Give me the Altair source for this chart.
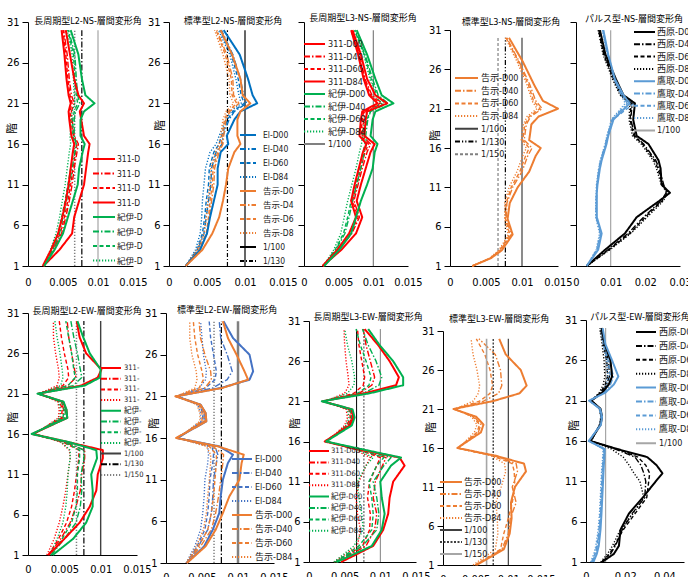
import altair as alt
import pandas as pd

# ---------------- fonts / styles ----------------
FONT_NUM = "Liberation Sans Narrow, DejaVu Sans Condensed, Liberation Sans, sans-serif"
FONT_MIX = "Liberation Sans Narrow, DejaVu Sans Condensed, Liberation Sans, Noto Sans CJK JP, sans-serif"
FONT_CJK = "Noto Sans CJK JP, sans-serif"

RED, GREEN, BLUE, BLUE2, ORANGE, LBLUE, BLACK = "#FF0000", "#00B050", "#0070C0", "#4472C4", "#ED7D31", "#5B9BD5", "#000000"
GRAY, MGRAY, DGRAY = "#A6A6A6", "#808080", "#404040"
SOLID, DASHDOT, DASH, DOT, DASHDOTDOT = [1, 0], [6, 2, 1.5, 2], [4, 2.5], [1.2, 1.8], [5, 2, 1.2, 2, 1.2, 2]

# ---------------- data (drift in 1/1000 rad) ----------------
Y_TICKS = [1, 6, 11, 16, 21, 26, 31]
REF_FLOORS = [1, 30]
R100, R130, R150 = 10.0, 7.69, 6.67

FLOORS_NS = [1, 3, 5, 7, 9, 11, 13, 15, 16, 17, 19, 20, 21, 22, 24, 27, 30]
FLOORS_L3NS = [1, 2, 3, 5, 7, 9, 11, 13, 15, 16, 17, 19, 20, 21, 22, 24, 27, 30]
FLOORS_PNS = [1, 3, 5, 7, 9, 10, 11, 13, 14, 16, 17, 19, 21, 22, 24, 27, 30]
FLOORS_EW = [1, 3, 5, 7, 9, 11, 13, 14, 15, 16, 18, 19, 20, 21, 22, 23, 24, 26, 28, 30]
FLOORS_PEW = [1, 2, 3, 5, 7, 9, 11, 12, 13, 14, 15, 16, 18, 19, 20, 21, 22, 23, 24, 26, 28, 30]

# Panel 1: 長周期型L2-NS
P1_311_D00 = [2.2, 4.5, 6.3, 6.6, 7.3, 8.0, 8.3, 8.6, 8.8, 8.0, 7.6, 7.4, 8.0, 7.2, 6.6, 6.0, 5.4]
P1_311_D40 = [2.2, 3.6, 4.8, 5.4, 5.9, 6.3, 6.6, 7.0, 7.2, 6.6, 6.3, 6.2, 6.6, 6.2, 5.9, 5.6, 5.1]
P1_311_D60 = [2.2, 3.5, 4.6, 5.2, 5.7, 6.1, 6.4, 6.8, 7.0, 6.5, 6.1, 6.0, 6.3, 6.0, 5.7, 5.4, 5.0]
P1_311_D84 = [2.1, 3.3, 4.3, 4.9, 5.4, 5.8, 6.1, 6.4, 6.6, 6.2, 5.9, 5.8, 6.1, 5.8, 5.5, 5.2, 4.8]
P1_KII_D00 = [2.3, 3.8, 5.0, 5.7, 6.4, 7.1, 7.3, 7.8, 8.1, 7.5, 7.5, 8.0, 9.5, 8.2, 7.7, 7.2, 6.1]
P1_KII_D40 = [2.3, 3.5, 4.5, 5.0, 5.5, 5.9, 6.3, 6.7, 6.9, 6.6, 6.6, 6.8, 7.4, 7.1, 6.9, 6.7, 5.8]
P1_KII_D60 = [2.3, 3.4, 4.3, 4.8, 5.3, 5.7, 6.1, 6.5, 6.7, 6.4, 6.4, 6.6, 7.1, 6.9, 6.7, 6.5, 5.7]
P1_KII_D84 = [2.2, 3.2, 4.0, 4.5, 4.9, 5.3, 5.6, 5.9, 6.1, 6.0, 6.2, 6.3, 6.7, 6.6, 6.5, 6.3, 5.6]

# Panel 2: 標準型L2-NS
P2_EL_D00 = [2.2, 4.1, 5.0, 5.4, 5.9, 6.4, 6.4, 6.8, 7.8, 7.6, 8.6, 9.4, 11.6, 11.0, 10.4, 9.3, 7.2]
P2_EL_D40 = [2.2, 3.8, 4.6, 4.9, 5.2, 5.5, 5.6, 6.2, 7.0, 7.1, 7.9, 8.6, 10.2, 9.8, 9.4, 8.4, 6.9]
P2_EL_D60 = [2.2, 3.7, 4.4, 4.7, 4.9, 5.2, 5.3, 5.9, 6.6, 6.9, 7.7, 8.4, 9.9, 9.5, 9.1, 8.2, 6.7]
P2_EL_D84 = [2.2, 3.5, 4.1, 4.3, 4.4, 4.6, 4.8, 5.4, 6.2, 6.6, 7.5, 8.1, 9.5, 9.2, 8.8, 8.0, 6.5]
P2_KO_D00 = [2.2, 4.4, 5.7, 6.6, 7.1, 7.5, 7.8, 8.6, 9.4, 9.0, 9.0, 9.4, 10.7, 9.7, 9.4, 8.3, 6.8]
P2_KO_D40 = [2.2, 4.0, 5.0, 5.3, 5.6, 5.9, 6.0, 6.6, 7.1, 7.2, 7.5, 8.0, 9.2, 8.5, 8.4, 7.6, 6.3]
P2_KO_D60 = [2.2, 3.9, 4.9, 5.2, 5.4, 5.7, 5.8, 6.4, 6.9, 7.0, 7.3, 7.8, 8.9, 8.3, 8.2, 7.4, 6.2]
P2_KO_D84 = [2.2, 3.7, 4.6, 4.9, 5.1, 5.4, 5.5, 6.1, 6.6, 6.8, 7.1, 7.5, 8.5, 8.0, 7.9, 7.1, 6.0]

# Panel 3: 長周期型L3-NS
P3_311_D00 = [2.7, 5.4, 7.5, 8.4, 7.6, 8.2, 8.9, 9.6, 10.2, 8.7, 8.9, 9.1, 12.0, 10.3, 9.1, 8.2, 7.0]
P3_311_D40 = [2.7, 5.0, 6.9, 8.0, 7.2, 7.8, 8.4, 9.1, 9.6, 8.4, 8.6, 8.8, 11.3, 9.8, 8.8, 8.0, 6.9]
P3_311_D60 = [2.7, 4.9, 6.7, 7.8, 7.0, 7.6, 8.2, 8.8, 9.3, 8.2, 8.4, 8.6, 11.0, 9.6, 8.7, 7.9, 6.8]
P3_311_D84 = [2.7, 4.8, 6.5, 7.5, 6.8, 7.3, 7.9, 8.5, 9.0, 8.0, 8.2, 8.4, 10.6, 9.4, 8.6, 7.8, 6.8]
P3_KII_D00 = [2.9, 5.1, 6.8, 7.5, 8.2, 9.1, 9.9, 10.2, 10.6, 9.6, 9.9, 10.3, 12.9, 11.2, 10.3, 9.1, 7.6]
P3_KII_D40 = [2.8, 4.6, 5.9, 6.5, 7.0, 7.6, 8.2, 8.7, 9.0, 8.9, 9.2, 9.6, 12.1, 10.7, 9.9, 8.8, 7.4]
P3_KII_D60 = [2.8, 4.5, 5.7, 6.3, 6.8, 7.4, 8.0, 8.5, 8.8, 8.7, 9.1, 9.5, 11.7, 10.5, 9.7, 8.7, 7.3]
P3_KII_D84 = [2.8, 4.3, 5.3, 5.8, 6.3, 6.9, 7.5, 8.0, 8.3, 8.4, 8.8, 9.2, 11.2, 10.2, 9.5, 8.6, 7.3]

# Panel 4: 標準型L3-NS
P4_KO_D00 = [3.1, 5.7, 7.2, 8.7, 8.0, 8.3, 9.4, 11.0, 11.9, 12.6, 11.0, 11.3, 12.3, 15.0, 12.9, 11.7, 10.1, 8.2]
P4_KO_D40 = [3.1, 5.6, 7.0, 8.5, 7.8, 7.9, 8.7, 10.0, 10.8, 11.4, 10.3, 10.6, 11.2, 12.8, 11.9, 11.1, 9.6, 7.9]
P4_KO_D60 = [3.1, 5.6, 6.9, 8.3, 7.7, 7.8, 8.5, 9.7, 10.5, 11.0, 10.1, 10.4, 11.0, 12.5, 11.6, 10.9, 9.5, 7.8]
P4_KO_D84 = [3.1, 5.5, 6.8, 8.1, 7.6, 7.6, 8.2, 9.3, 10.1, 10.6, 9.9, 10.2, 10.7, 12.1, 11.4, 10.7, 9.3, 7.7]

# Panel 5: パルス型-NS
P5_NI_D00 = [3.1, 8.4, 14.1, 17.5, 24.0, 27.1, 24.7, 24.4, 23.8, 20.9, 17.5, 16.5, 17.0, 13.7, 11.5, 8.5, 6.9]
P5_NI_D40 = [3.1, 9.2, 15.0, 19.5, 24.5, 26.0, 25.3, 24.0, 23.0, 19.5, 17.0, 15.8, 16.2, 13.2, 11.0, 8.2, 6.6]
P5_NI_D60 = [3.1, 9.5, 15.5, 20.0, 24.8, 26.5, 25.0, 23.6, 22.6, 19.2, 16.7, 15.6, 15.9, 13.0, 10.8, 8.0, 6.5]
P5_NI_D84 = [3.1, 9.8, 15.8, 20.5, 25.2, 26.3, 24.6, 23.2, 22.2, 18.8, 16.3, 15.3, 15.5, 12.7, 10.5, 7.8, 6.4]
P5_TA_D00 = [3.1, 6.4, 7.4, 6.0, 6.0, 6.0, 6.2, 6.9, 7.4, 8.8, 9.3, 10.8, 15.5, 13.7, 11.2, 9.3, 7.9]
P5_TA_D40 = [3.1, 6.0, 7.0, 5.8, 5.8, 5.9, 6.0, 6.6, 7.1, 8.5, 9.0, 10.4, 14.8, 13.2, 11.0, 9.1, 7.7]
P5_TA_D60 = [3.1, 6.1, 7.2, 5.9, 5.9, 6.0, 6.1, 6.7, 7.2, 8.6, 9.1, 10.6, 16.8, 13.4, 11.1, 9.2, 7.8]
P5_TA_D84 = [3.1, 5.8, 6.8, 5.7, 5.7, 5.8, 5.9, 6.5, 7.0, 8.4, 8.9, 10.2, 14.2, 13.0, 10.9, 9.0, 7.6]

# Panel 6: 長周期型L2-EW
P6_311_D00 = [2.8, 5.0, 7.1, 8.5, 9.4, 9.6, 10.3, 10.3, 5.5, 0.6, 5.4, 5.3, 4.8, 1.4, 7.3, 9.6, 10.1, 8.0, 7.1, 6.7]
P6_311_D40 = [2.8, 4.5, 5.8, 6.6, 7.2, 7.4, 7.8, 7.8, 5.0, 0.8, 4.8, 4.9, 4.6, 1.4, 5.5, 6.6, 6.4, 6.0, 5.6, 5.4]
P6_311_D60 = [2.8, 4.2, 5.3, 6.0, 6.4, 6.7, 7.0, 7.0, 4.8, 0.8, 4.6, 4.7, 4.4, 1.5, 4.8, 5.6, 5.5, 5.0, 4.6, 4.3]
P6_311_D84 = [2.6, 3.6, 4.3, 4.8, 5.2, 5.5, 5.8, 5.7, 4.5, 0.9, 4.2, 4.3, 4.1, 1.6, 4.0, 4.3, 4.2, 3.8, 3.5, 3.5]
P6_KII_D00 = [3.4, 6.2, 8.0, 8.9, 8.9, 8.7, 9.5, 9.4, 5.6, 0.5, 5.4, 5.3, 4.9, 1.3, 7.8, 9.9, 10.0, 8.5, 7.6, 6.8]
P6_KII_D40 = [3.2, 5.0, 6.6, 7.2, 7.4, 7.3, 7.7, 7.7, 5.2, 0.6, 5.0, 5.2, 4.8, 1.5, 6.2, 7.4, 7.2, 6.8, 6.3, 5.9]
P6_KII_D60 = [3.2, 4.7, 6.0, 6.6, 6.8, 6.8, 7.1, 7.1, 5.0, 0.7, 4.8, 5.0, 4.6, 1.5, 5.5, 6.5, 6.3, 6.0, 5.6, 5.2]
P6_KII_D84 = [3.0, 4.0, 4.8, 5.2, 5.4, 5.5, 5.8, 5.8, 4.6, 0.8, 4.4, 4.5, 4.2, 1.6, 4.5, 4.8, 4.7, 4.4, 4.0, 3.7]

# Panel 7: 標準型L2-EW
P7_EL_D00 = [2.9, 5.3, 6.5, 7.4, 7.6, 7.9, 8.6, 9.3, 7.4, 1.5, 5.6, 5.5, 4.8, 1.4, 7.6, 11.6, 12.1, 11.6, 9.3, 8.0]
P7_EL_D40 = [2.9, 4.5, 5.8, 6.3, 6.5, 6.6, 7.0, 7.2, 6.8, 1.6, 5.3, 5.3, 4.8, 1.5, 6.5, 8.5, 9.2, 8.5, 7.6, 7.4]
P7_EL_D60 = [2.9, 4.3, 5.4, 5.8, 6.0, 6.1, 6.5, 6.6, 6.4, 1.7, 5.1, 5.1, 4.6, 1.5, 5.5, 6.8, 7.0, 6.6, 6.2, 6.0]
P7_EL_D84 = [2.8, 4.0, 4.8, 5.1, 5.3, 5.4, 5.8, 5.9, 5.8, 1.8, 4.8, 4.8, 4.4, 1.6, 4.6, 5.5, 5.6, 5.2, 5.0, 4.8]
P7_KO_D00 = [2.9, 5.5, 6.9, 7.9, 8.8, 10.2, 10.5, 10.8, 7.2, 1.4, 5.6, 5.5, 4.8, 1.3, 7.8, 11.4, 10.9, 9.8, 8.6, 7.9]
P7_KO_D40 = [2.9, 4.8, 6.3, 6.9, 7.3, 7.6, 7.9, 8.0, 6.5, 1.5, 5.3, 5.3, 4.8, 1.4, 5.4, 6.3, 6.2, 5.4, 4.8, 4.6]
P7_KO_D60 = [2.9, 4.5, 5.8, 6.3, 6.6, 6.8, 7.0, 7.0, 6.0, 1.6, 5.0, 5.0, 4.6, 1.4, 4.6, 5.2, 5.0, 4.4, 4.0, 3.8]
P7_KO_D84 = [2.8, 4.2, 5.2, 5.6, 5.8, 6.0, 6.2, 6.2, 5.6, 1.7, 4.7, 4.7, 4.3, 1.5, 4.0, 4.3, 4.2, 3.6, 3.3, 3.3]

# Panel 8: 長周期型L3-EW
P8_311_D00 = [4.5, 9.0, 10.4, 11.1, 11.3, 11.8, 13.4, 12.7, 7.1, 2.2, 5.7, 6.2, 6.0, 1.9, 7.8, 12.2, 12.6, 11.3, 9.7, 7.8]
P8_311_D40 = [3.8, 8.0, 9.2, 9.5, 9.0, 9.3, 10.3, 10.8, 7.0, 2.3, 5.5, 6.0, 5.8, 2.0, 7.0, 8.8, 9.2, 8.6, 8.0, 7.6]
P8_311_D60 = [3.7, 7.5, 8.5, 8.6, 8.2, 8.5, 9.5, 10.0, 6.8, 2.4, 5.3, 5.8, 5.6, 2.1, 6.3, 7.6, 7.8, 7.4, 7.0, 6.8]
P8_311_D84 = [3.5, 6.8, 7.2, 6.8, 6.6, 7.0, 8.0, 8.6, 6.4, 2.5, 5.0, 5.4, 5.2, 2.2, 5.0, 5.6, 5.5, 5.2, 5.0, 4.9]
P8_KII_D00 = [3.9, 8.8, 10.2, 10.6, 10.2, 10.0, 11.5, 12.9, 7.6, 2.4, 6.0, 6.4, 6.1, 1.8, 8.5, 13.2, 13.2, 11.8, 9.9, 8.3]
P8_KII_D40 = [3.8, 7.5, 9.5, 9.8, 9.5, 9.0, 10.5, 11.5, 7.3, 2.3, 5.8, 6.2, 5.9, 1.9, 7.6, 9.8, 10.2, 9.4, 8.3, 7.5]
P8_KII_D60 = [3.7, 7.0, 8.8, 9.0, 8.8, 8.4, 9.5, 10.5, 7.0, 2.4, 5.6, 6.0, 5.7, 2.0, 6.8, 8.4, 8.7, 8.0, 7.2, 6.6]
P8_KII_D84 = [3.5, 6.3, 7.6, 7.4, 7.0, 6.8, 8.0, 9.0, 6.7, 2.5, 5.2, 5.6, 5.4, 2.1, 5.4, 6.3, 6.4, 6.0, 5.4, 5.0]

# Panel 9: 標準型L3-EW
P9_KO_D00 = [5.1, 9.3, 10.2, 10.5, 10.4, 11.0, 12.7, 12.4, 8.1, 2.2, 5.8, 6.2, 5.1, 1.6, 7.6, 11.7, 12.8, 11.9, 9.6, 8.6]
P9_KO_D40 = [5.0, 9.0, 10.0, 10.3, 11.2, 10.6, 11.4, 11.2, 7.8, 2.2, 5.4, 5.8, 4.8, 1.7, 6.2, 8.5, 9.0, 8.8, 8.0, 5.5]
P9_KO_D60 = [4.9, 8.8, 9.3, 10.0, 10.6, 11.0, 10.9, 10.6, 7.6, 2.3, 5.2, 5.6, 4.6, 1.8, 5.6, 7.2, 7.6, 7.2, 6.4, 5.1]
P9_KO_D84 = [4.6, 8.0, 8.4, 8.3, 8.1, 8.9, 9.6, 9.4, 7.4, 2.4, 4.8, 5.2, 4.4, 1.9, 4.6, 5.4, 5.6, 5.2, 4.6, 4.3]

# Panel 10: パルス型-EW
P10_NI_D00 = [8.2, 14.2, 16.8, 17.6, 21.9, 29.0, 35.6, 39.0, 36.0, 31.3, 16.0, 2.2, 7.4, 8.2, 7.4, 2.7, 8.2, 11.6, 13.3, 12.5, 9.6, 7.9]
P10_NI_D40 = [8.0, 12.5, 15.0, 18.5, 23.5, 30.0, 30.5, 29.5, 28.0, 25.0, 15.0, 2.5, 7.2, 8.0, 7.2, 2.7, 7.8, 10.5, 12.0, 11.5, 9.2, 7.6]
P10_NI_D60 = [8.0, 12.0, 14.5, 19.0, 25.0, 31.0, 32.0, 32.5, 30.5, 26.5, 16.0, 2.5, 7.0, 7.8, 7.0, 2.7, 7.4, 9.8, 11.0, 10.6, 8.8, 7.4]
P10_NI_D84 = [7.5, 11.0, 13.5, 17.5, 24.0, 29.5, 27.5, 24.5, 22.0, 19.0, 13.0, 2.8, 6.8, 7.6, 6.8, 2.8, 6.8, 8.8, 9.6, 9.2, 8.2, 7.0]
P10_TA_D00 = [3.8, 5.5, 6.5, 7.4, 7.9, 8.3, 8.7, 8.9, 9.1, 9.4, 9.6, 1.4, 7.6, 8.2, 7.2, 1.6, 9.9, 14.2, 16.5, 13.3, 9.9, 8.5]
P10_TA_D40 = [3.2, 4.8, 5.8, 6.9, 7.5, 7.9, 8.3, 8.5, 8.7, 9.0, 9.2, 1.5, 7.4, 8.0, 7.0, 1.7, 9.2, 12.5, 14.0, 12.0, 9.4, 8.2]
P10_TA_D60 = [2.8, 4.5, 5.5, 6.6, 7.2, 7.6, 8.0, 8.2, 8.5, 8.8, 9.0, 1.6, 7.2, 7.8, 6.9, 1.8, 8.8, 11.5, 12.5, 11.2, 9.0, 8.0]
P10_TA_D84 = [2.4, 4.0, 5.0, 6.2, 6.9, 7.3, 7.7, 7.9, 8.2, 8.5, 8.8, 1.7, 7.0, 7.6, 6.7, 1.9, 8.4, 10.5, 11.2, 10.4, 8.7, 7.8]

W0, W1, WR = 2.0, 1.4, 1.2  # line widths


def S(name, floors, vals, color, dash, width):
    return (name, floors, vals, color, dash, width)


def REF(name, val, color, dash, width):
    return (name, REF_FLOORS, [val, val], color, dash, width)


def grp4(prefix, floors, arrs, color, solid84=False):
    d84 = SOLID if solid84 else DOT
    return [S(prefix + "-D00", floors, arrs[0], color, SOLID, W0),
            S(prefix + "-D40", floors, arrs[1], color, DASHDOT, W1),
            S(prefix + "-D60", floors, arrs[2], color, DASH, W1),
            S(prefix + "-D84", floors, arrs[3], color, d84, W0 if solid84 else W1)]


# gx = empty gap to the left of the plot inside the panel's cell, dy = empty gap above it
# (the grid adds about 3 px between cells, already taken into account in gx)
PANELS = {
    "p1": dict(title="長周期型L2-NS-層間変形角", tpos=(60, -1), w=105, h=244, gx=0, dy=0, xmax=0.015,
               xticks=[0, 0.005, 0.01, 0.015], ylab=True, ytitle=(-16, 106), lpad=10,
               series=grp4("311", FLOORS_NS, [P1_311_D00, P1_311_D40, P1_311_D60, P1_311_D84], RED, True)
               + grp4("紀伊", FLOORS_NS, [P1_KII_D00, P1_KII_D40, P1_KII_D60, P1_KII_D84], GREEN),
               refs=[(R100, GRAY, SOLID, 1.2), (R130, BLACK, DASHDOT, 1.2), (R150, MGRAY, DOT, 1.5)],
               leg=dict(x0=65, x1=87, xt=89, y0=137, step=14.5, fs=8.5, limit=29)),
    "p2": dict(title="標準型L2-NS-層間変形角", tpos=(64, -1), w=114, h=244, gx=32, dy=0, xmax=0.015,
               xticks=[0, 0.005, 0.01, 0.015], ylab=True, ytitle=(-9, 103), lpad=10,
               series=grp4("El", FLOORS_NS, [P2_EL_D00, P2_EL_D40, P2_EL_D60, P2_EL_D84], BLUE)
               + grp4("告示", FLOORS_NS, [P2_KO_D00, P2_KO_D40, P2_KO_D60, P2_KO_D84], ORANGE)
               + [REF("1/100", R100, BLACK, SOLID, WR), REF("1/130", R130, BLACK, [4, 2, 1, 2], WR)],
               refs=[], leg=dict(x0=71, x1=87, xt=94, y0=113, step=14, fs=8.5, limit=35)),
    "p3": dict(title="長周期型L3-NS-層間変形角", tpos=(59, -4), w=104, h=244, gx=21, dy=0, xmax=0.015,
               xticks=[0, 0.005, 0.01, 0.015], ylab=False, ytitle=None, lpad=10,
               series=grp4("311", FLOORS_NS, [P3_311_D00, P3_311_D40, P3_311_D60, P3_311_D84], RED, True)
               + grp4("紀伊", FLOORS_NS, [P3_KII_D00, P3_KII_D40, P3_KII_D60, P3_KII_D84], GREEN)
               + [REF("1/100", R100, MGRAY, SOLID, WR)],
               refs=[], leg=dict(x0=0, x1=21, xt=24, y0=22, step=12.5, fs=9)),
    "p4": dict(title="標準型L3-NS-層間変形角", tpos=(61, 0), w=108, h=236, gx=34, dy=8, xmax=0.015,
               xticks=[0, 0.005, 0.01, 0.015], ylab=True, ytitle=(-15, 113), lpad=10,
               series=grp4("告示", FLOORS_L3NS, [P4_KO_D00, P4_KO_D40, P4_KO_D60, P4_KO_D84], ORANGE)
               + [REF("1/100", R100, DGRAY, SOLID, WR), REF("1/130", R130, BLACK, DASHDOTDOT, WR),
                  REF("1/150", R150, MGRAY, [3, 2], WR)],
               refs=[], leg=dict(x0=5, x1=28, xt=31, y0=56, step=12.7, fs=9)),
    "p5": dict(title="パルス型-NS-層間変形角", tpos=(58, -3), w=104, h=244, gx=18, dy=0, xmax=0.03,
               xticks=[0, 0.01, 0.02, 0.03], ylab=False, ytitle=None, lpad=10,
               series=grp4("西原", FLOORS_PNS, [P5_NI_D00, P5_NI_D40, P5_NI_D60, P5_NI_D84], BLACK)
               + grp4("鷹取", FLOORS_PNS, [P5_TA_D00, P5_TA_D40, P5_TA_D60, P5_TA_D84], LBLUE)
               + [REF("1/100", R100, GRAY, SOLID, WR)],
               refs=[], leg=dict(x0=58, x1=79, xt=81, y0=10, step=12.3, fs=9)),
    "p6": dict(title="長周期型L2-EW-層間変形角", tpos=(59, -2), w=109, h=242, gx=0, dy=0, xmax=0.015,
               xticks=[0, 0.005, 0.01, 0.015], ylab=True, ytitle=(-15, 104), lpad=8,
               series=grp4("311", FLOORS_EW, [P6_311_D00, P6_311_D40, P6_311_D60, P6_311_D84], RED)
               + grp4("紀伊", FLOORS_EW, [P6_KII_D00, P6_KII_D40, P6_KII_D60, P6_KII_D84], GREEN)
               + [REF("1/100", R100, DGRAY, SOLID, 1.4), REF("1/130", R130, BLACK, DASHDOT, WR),
                  REF("1/150", R150, MGRAY, DOT, 1.5)],
               refs=[], leg=dict(x0=73, x1=93, xt=96, y0=55, step=10.7, fs=7.5, limit=22)),
    "p7": dict(title="標準型L2-EW-層間変形角", tpos=(61, -3), w=108, h=250, gx=29, dy=0, xmax=0.015,
               xticks=[0, 0.005, 0.01, 0.015], ylab=True, ytitle=(-12, 110), lpad=8,
               series=grp4("El", FLOORS_EW, [P7_EL_D00, P7_EL_D40, P7_EL_D60, P7_EL_D84], BLUE2)
               + grp4("告示", FLOORS_EW, [P7_KO_D00, P7_KO_D40, P7_KO_D60, P7_KO_D84], ORANGE),
               refs=[(R100, MGRAY, SOLID, 2.5), (R130, BLACK, DASHDOT, 1.2), (R150, MGRAY, DOT, 1.5)],
               leg=dict(x0=66, x1=86, xt=89, y0=146, step=14, fs=9)),
    "p8": dict(title="長周期型L3-EW-層間変形角", tpos=(59, 4), w=107, h=241, gx=26, dy=8, xmax=0.015,
               xticks=[0, 0.005, 0.01, 0.015], ylab=True, ytitle=(-14, 110), lpad=8,
               series=grp4("311", FLOORS_EW, [P8_311_D00, P8_311_D40, P8_311_D60, P8_311_D84], RED)
               + grp4("紀伊", FLOORS_EW, [P8_KII_D00, P8_KII_D40, P8_KII_D60, P8_KII_D84], GREEN),
               refs=[(R100, MGRAY, SOLID, 1.0), (R130, MGRAY, [2, 1.5], 1.5), (R150, BLACK, SOLID, 1.0)],
               leg=dict(x0=0, x1=20, xt=22, y0=138, step=11.4, fs=7.5)),
    "p9": dict(title="標準型L3-EW-層間変形角", tpos=(56, 6), w=98, h=234, gx=27, dy=18, xmax=0.015,
               xticks=[0, 0.005, 0.01, 0.015], ylab=True, ytitle=(-12, 114), lpad=8,
               series=grp4("告示", FLOORS_EW, [P9_KO_D00, P9_KO_D40, P9_KO_D60, P9_KO_D84], ORANGE)
               + [REF("1/100", R100, DGRAY, SOLID, WR), REF("1/130", R130, DGRAY, [2, 1.5], 1.4),
                  REF("1/150", R150, GRAY, SOLID, 1.6)],
               refs=[], leg=dict(x0=-3, x1=19, xt=21, y0=169, step=12, fs=9)),
    "p10": dict(title="パルス型-EW-層間変形角", tpos=(54, 4), w=98, h=242, gx=28, dy=7, xmax=0.05,
                xticks=[0, 0.02, 0.04], ylab=True, ytitle=(-12, 112), lpad=8,
                series=grp4("西原", FLOORS_PEW, [P10_NI_D00, P10_NI_D40, P10_NI_D60, P10_NI_D84], BLACK)
                + grp4("鷹取", FLOORS_PEW, [P10_TA_D00, P10_TA_D40, P10_TA_D60, P10_TA_D84], LBLUE)
                + [REF("1/100", R100, GRAY, SOLID, WR)],
                refs=[], leg=dict(x0=50, x1=70, xt=73, y0=19, step=13.9, fs=9)),
}


def make_panel(cfg):
    series = cfg["series"]
    names = [s[0] for s in series]
    recs = []
    for name, floors, vals, _c, _d, _w in series:
        for f, v in zip(floors, vals):
            recs.append({"series": name, "floor": f, "drift": v / 1000.0})
    df = pd.DataFrame(recs)
    gx, dy, w, h = cfg["gx"], cfg["dy"], cfg["w"], cfg["h"]

    color = alt.Color("series:N", scale=alt.Scale(domain=names, range=[s[3] for s in series]), legend=None)
    dash = alt.StrokeDash("series:N", scale=alt.Scale(domain=names, range=[s[4] for s in series]), legend=None)

    xenc = alt.X("drift:Q", scale=alt.Scale(domain=[0, cfg["xmax"]], range=[gx, gx + w], nice=False, zero=False),
                 axis=alt.Axis(values=cfg["xticks"], format=".3~f", ticks=False, grid=False,
                               labelPadding=cfg["lpad"], labelFontSize=11, labelFont=FONT_NUM,
                               labelColor="#000", domainColor="#000",
                               labelFlush=False, labelOverlap=False), title=None)
    ykw = dict(values=Y_TICKS, grid=False, tickSize=6, domainColor="#000", tickColor="#000", offset=-gx)
    if cfg["ylab"]:
        tx, ty = cfg["ytitle"]
        yaxis = alt.Axis(labelPadding=3, labelFontSize=11, labelFont=FONT_NUM, labelColor="#000",
                         labelFlush=False, labelOverlap=False, title="階", titleX=tx, titleY=ty,
                         titleAngle=270, titleAlign="center", titleBaseline="middle", titleFont=FONT_CJK,
                         titleFontSize=11, titleFontWeight="normal", titleColor="#000", **ykw)
    else:
        yaxis = alt.Axis(labels=False, title=None, **ykw)
    yenc = alt.Y("floor:Q", scale=alt.Scale(domain=[1, 31], range=[dy + h, dy], nice=False, zero=False),
                 axis=yaxis)

    layers = []
    for val, c, d, wd in cfg["refs"]:
        rdf = pd.DataFrame({"drift": [val / 1000.0], "floor": [REF_FLOORS[0]], "floor2": [REF_FLOORS[1]]})
        layers.append(alt.Chart(rdf).mark_rule(color=c, strokeDash=d, strokeWidth=wd)
                      .encode(x=xenc, y=yenc, y2="floor2:Q"))

    widths = sorted(set(s[5] for s in series))
    for wd in widths:
        grp = [s[0] for s in series if s[5] == wd]
        layers.append(alt.Chart(df).transform_filter(alt.FieldOneOfPredicate(field="series", oneOf=grp))
                      .mark_line(strokeWidth=wd, strokeJoin="round")
                      .encode(x=xenc, y=yenc, color=color, strokeDash=dash,
                              order=alt.Order("floor:Q"), detail="series:N"))

    L = cfg["leg"]
    ldf = pd.DataFrame({"series": names, "k": list(range(len(names)))})
    lbase = alt.Chart(ldf).transform_calculate(py=f"{L['y0']} + datum.k * {L['step']}")
    ly = alt.Y("py:Q", scale=None, axis=None)
    layers.append(lbase.mark_rule(strokeWidth=2).encode(
        x=alt.value(gx + L["x0"]), x2=alt.value(gx + L["x1"]), y=ly, color=color, strokeDash=dash))
    tkw = dict(align="left", baseline="middle", font=FONT_MIX, fontSize=L["fs"], color="#1a1a1a")
    if "limit" in L:
        tkw.update(limit=L["limit"], ellipsis=" ")
    layers.append(lbase.mark_text(**tkw).encode(x=alt.value(gx + L["xt"]), y=ly, text="series:N"))

    tdf = pd.DataFrame({"t": [cfg["title"]]})
    layers.append(alt.Chart(tdf).mark_text(font=FONT_MIX, fontSize=9, align="center", baseline="middle",
                                           color="#000")
                  .encode(x=alt.value(gx + cfg["tpos"][0]), y=alt.value(cfg["tpos"][1]), text="t:N"))

    return alt.layer(*layers).properties(width=gx + w, height=dy + h)


RES = dict(x="independent", y="independent", color="independent", strokeDash="independent")

cells = [make_panel(PANELS[k]) for k in ["p1", "p2", "p3", "p4", "p5", "p6", "p7", "p8", "p9", "p10"]]

# Fixed 688 x 577 canvas: first plot's origin at (28, 22), everything else placed by the grid.
chart = (alt.concat(*cells, columns=5, spacing={"row": 47, "column": 0}, bounds="flush", align="none")
         .resolve_scale(**RES)
         .properties(autosize=alt.AutoSizeParams(type="none"),
                     padding={"left": 28, "top": 22, "right": 660, "bottom": 555})
         .configure_view(stroke="transparent"))

chart.save("out.html", embed_options={"renderer": "svg", "actions": False})
